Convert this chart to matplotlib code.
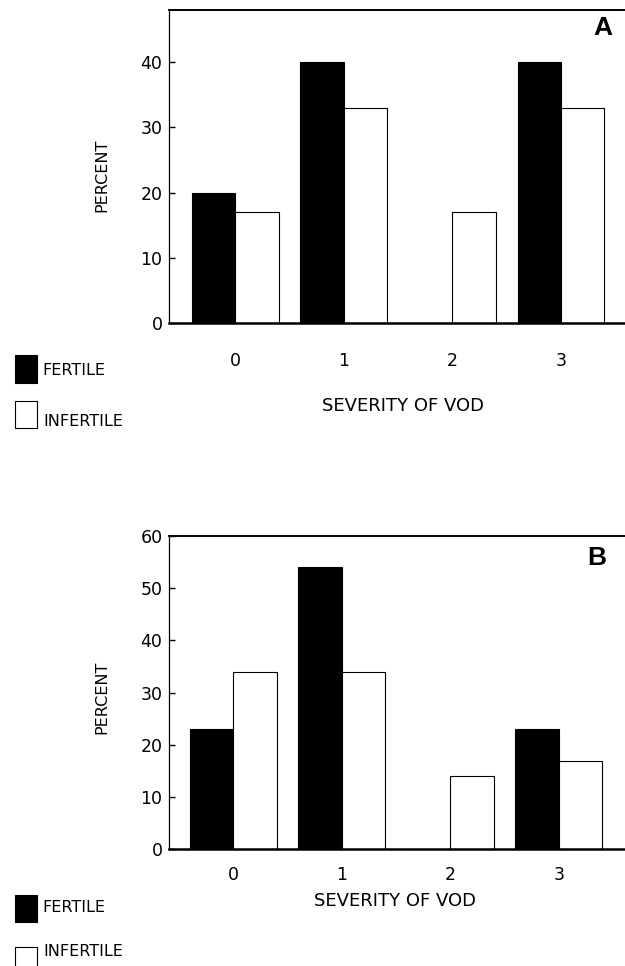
import matplotlib
matplotlib.use("Agg")
import matplotlib.pyplot as plt
from matplotlib.patches import Rectangle
import numpy as np

categories = ["0", "1", "2", "3"]
fertile_a = [20, 40, 0, 40]
infertile_a = [17, 33, 17, 33]
fertile_b = [23, 54, 0, 23]
infertile_b = [34, 34, 14, 17]
yticks_a = [0, 10, 20, 30, 40]
yticks_b = [0, 10, 20, 30, 40, 50, 60]

W, H = 625, 966
fig = plt.figure(figsize=(W / 100, H / 100), dpi=100)

def fx(x):
    return x / W

def fy(y):
    return 1 - y / H

tick_font = ["DejaVu Sans"]

def panel(left_px, top_px, bottom_px, fert, infert, yticks, ylim, xlim, xpad, letter, letter_xy,
          xlab_xy, ylab_xy, leg):
    ax = fig.add_axes([fx(left_px), fy(bottom_px), 1 - fx(left_px) + 0.02, (bottom_px - top_px) / H])
    x = np.arange(len(categories))
    ax.bar(x - 0.2, fert, width=0.4, color="black", edgecolor="black", linewidth=0.8)
    ax.bar(x + 0.2, infert, width=0.4, color="white", edgecolor="black", linewidth=0.8)
    ax.set_xlim(*xlim)
    ax.set_ylim(*ylim)
    ax.set_yticks(yticks)
    ax.set_yticklabels([str(t) for t in yticks], family=tick_font, fontsize=12.5)
    ax.set_xticks(x)
    ax.set_xticklabels(categories, family=tick_font, fontsize=12.5)
    ax.tick_params(axis="y", direction="in", length=4, width=1, pad=5)
    ax.tick_params(axis="x", length=0, pad=xpad)
    ax.spines["right"].set_visible(False)
    ax.spines["left"].set_linewidth(0.9)
    ax.spines["bottom"].set_linewidth(1.8)
    ax.spines["top"].set_linewidth(1.4)
    fig.text(fx(letter_xy[0]), fy(letter_xy[1]), letter, family=["Liberation Sans", "DejaVu Sans"],
             fontweight="bold", fontsize=19, ha="center", va="center")
    fig.text(fx(xlab_xy[0]), fy(xlab_xy[1]), "SEVERITY OF VOD", fontsize=13,
             ha="center", va="center")
    fig.text(fx(ylab_xy[0]), fy(ylab_xy[1]), "PERCENT", fontsize=11.5, rotation=90,
             ha="center", va="center")
    # legend
    (fy0, fy1), (iy0, iy1), ft_y, it_y = leg
    fig.add_artist(Rectangle((fx(15), fy(fy1)), fx(37) - fx(15), fy(fy0) - fy(fy1),
                             transform=fig.transFigure, facecolor="black", edgecolor="black", lw=0.8))
    fig.add_artist(Rectangle((fx(15), fy(iy1)), fx(37) - fx(15), fy(iy0) - fy(iy1),
                             transform=fig.transFigure, facecolor="white", edgecolor="black", lw=0.8))
    fig.text(fx(42), fy(ft_y), "FERTILE", fontsize=11.5, ha="left", va="center")
    fig.text(fx(43), fy(it_y), "INFERTILE", fontsize=11.5, ha="left", va="center")
    return ax

panel(169.4, 10, 323.3, fertile_a, infertile_a, yticks_a, (0, 48),
      (-0.606, 3.59 + 0.02 * W / 108.6), 21, "A", (603, 28), (403, 406), (102, 175),
      ((355, 383), (401, 428), 371, 421))

panel(169.4, 536, 849.3, fertile_b, infertile_b, yticks_b, (0, 60),
      (-0.588, 3.61 + 0.02 * W / 108.5), 12, "B", (597, 558), (395, 901), (102, 697),
      ((895, 922), (947, 975), 908, 952))

fig.savefig("out.png", dpi=100, facecolor="white")
